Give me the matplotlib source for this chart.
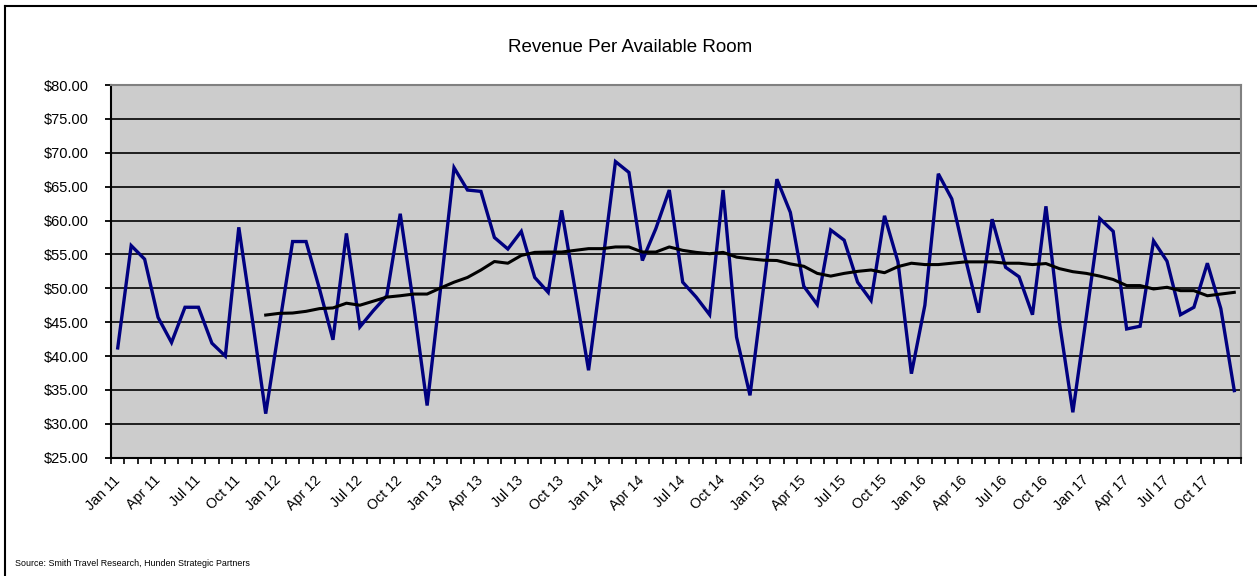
import numpy as np
import matplotlib
matplotlib.use("Agg")
import matplotlib.pyplot as plt
from matplotlib.lines import Line2D
from matplotlib.transforms import ScaledTranslation

# ---- data ----
months = ["Jan", "Feb", "Mar", "Apr", "May", "Jun", "Jul", "Aug", "Sep", "Oct", "Nov", "Dec"]
years = ["11", "12", "13", "14", "15", "16", "17"]
categories = [f"{m} {y}" for y in years for m in months]

revpar = [
    41.2, 56.3, 54.3, 45.7, 42.0, 47.2, 47.2, 41.9, 40.0, 59.0, 45.5, 31.5,   # 2011
    44.3, 56.9, 56.9, 49.9, 42.4, 58.1, 44.3, 46.7, 48.9, 61.0, 47.5, 32.7,   # 2012
    50.0, 67.8, 64.5, 64.3, 57.5, 55.8, 58.4, 51.6, 49.4, 61.5, 49.8, 37.9,   # 2013
    53.0, 68.7, 67.1, 54.1, 58.8, 64.5, 50.9, 48.7, 46.1, 64.5, 42.8, 34.2,   # 2014
    50.0, 66.1, 61.2, 50.3, 47.6, 58.6, 57.1, 50.9, 48.2, 60.7, 53.9, 37.4,   # 2015
    47.5, 66.9, 63.2, 54.5, 46.4, 60.2, 53.1, 51.7, 46.1, 62.1, 45.0, 31.7,   # 2016
    45.8, 60.3, 58.4, 44.0, 44.4, 57.0, 54.0, 46.1, 47.2, 53.7, 47.0, 34.9,   # 2017
]

# 12-period moving average (starts Dec 11)
mov_avg_start = 11
mov_avg = [
    46.05,                                                                     # Dec 11
    46.3, 46.35, 46.6, 47.0, 47.1, 47.8, 47.5, 48.1, 48.7, 48.9, 49.15, 49.15,  # 2012
    50.05, 50.9, 51.6, 52.7, 53.95, 53.7, 54.85, 55.3, 55.35, 55.35, 55.6, 55.85,  # 2013
    55.85, 56.1, 56.1, 55.35, 55.35, 56.1, 55.6, 55.3, 55.1, 55.3, 54.6, 54.35,  # 2014
    54.15, 54.1, 53.6, 53.25, 52.2, 51.8, 52.2, 52.5, 52.7, 52.3, 53.2, 53.7,   # 2015
    53.5, 53.5, 53.7, 53.9, 53.9, 53.9, 53.7, 53.7, 53.5, 53.65, 52.9, 52.45,   # 2016
    52.2, 51.8, 51.3, 50.4, 50.4, 49.9, 50.15, 49.65, 49.65, 48.9, 49.15, 49.4,  # 2017
]

y_ticks = [25, 30, 35, 40, 45, 50, 55, 60, 65, 70, 75, 80]
label_step = 3
title = "Revenue Per Available Room"
source = "Source: Smith Travel Research, Hunden Strategic Partners"

# ---- figure ----
W, H = 1257, 576
fig = plt.figure(figsize=(W / 100, H / 100), dpi=100)
ax = fig.add_axes([111 / W, 1 - 457.7 / H, (1241 - 111) / W, (457.7 - 85) / H])
ax.set_facecolor("#CCCCCC")

x = np.arange(len(revpar))
ax.plot(x, revpar, color="#000080", lw=2.4, solid_joinstyle="miter", zorder=3)
xm = np.arange(mov_avg_start, mov_avg_start + len(mov_avg))
ax.plot(xm, mov_avg, color="black", lw=2.2, zorder=4)

ax.set_xlim(-0.5, len(revpar) - 0.5)
ax.set_ylim(25, 80)

# y axis
ax.set_yticks(y_ticks)
ax.set_yticklabels([f"${v:.2f}" for v in y_ticks], fontsize=10.5, family="Liberation Sans")
ax.tick_params(axis="y", length=4, width=1.3, pad=12, color="black")
ax.yaxis.grid(True, color="black", lw=1.2)
ax.set_axisbelow(True)

# x axis: boundary ticks (minor) and labels every 3 months (major)
ax.set_xticks(np.arange(-0.5, len(revpar), 1.0), minor=True)
lab_pos = x[::label_step]
ax.set_xticks(lab_pos)
ax.set_xticklabels([categories[i] for i in lab_pos], fontsize=10.3, family="Liberation Sans")
ax.tick_params(axis="x", which="minor", length=4, width=1.2, color="black")
ax.tick_params(axis="x", which="major", length=0, pad=11)
off = ScaledTranslation(-5 / 100, 0, fig.dpi_scale_trans)
for lab in ax.get_xticklabels():
    lab.set_rotation(45)
    lab.set_rotation_mode("anchor")
    lab.set_ha("right")
    lab.set_va("top")
    lab.set_transform(lab.get_transform() + off)

for s in ["left", "bottom"]:
    ax.spines[s].set_color("black")
    ax.spines[s].set_linewidth(1.5)
for s in ["top", "right"]:
    ax.spines[s].set_color("#808080")
    ax.spines[s].set_linewidth(1.5)

# title and source
fig.text(630 / W, 1 - 47 / H, title, ha="center", va="center", fontsize=13.5, family="Liberation Sans")
fig.text(15 / W, 1 - 563 / H, source, ha="left", va="center", fontsize=6.4,
         family="Liberation Sans")

# outer frame (left and top edges visible)
fig.add_artist(Line2D([4.5 / W, 4.5 / W], [0, 1 - 6 / H], color="black", lw=1.5, transform=fig.transFigure))
fig.add_artist(Line2D([4.5 / W, 1], [1 - 6 / H, 1 - 6 / H], color="black", lw=1.5, transform=fig.transFigure))

fig.savefig("out.png", dpi=100)
